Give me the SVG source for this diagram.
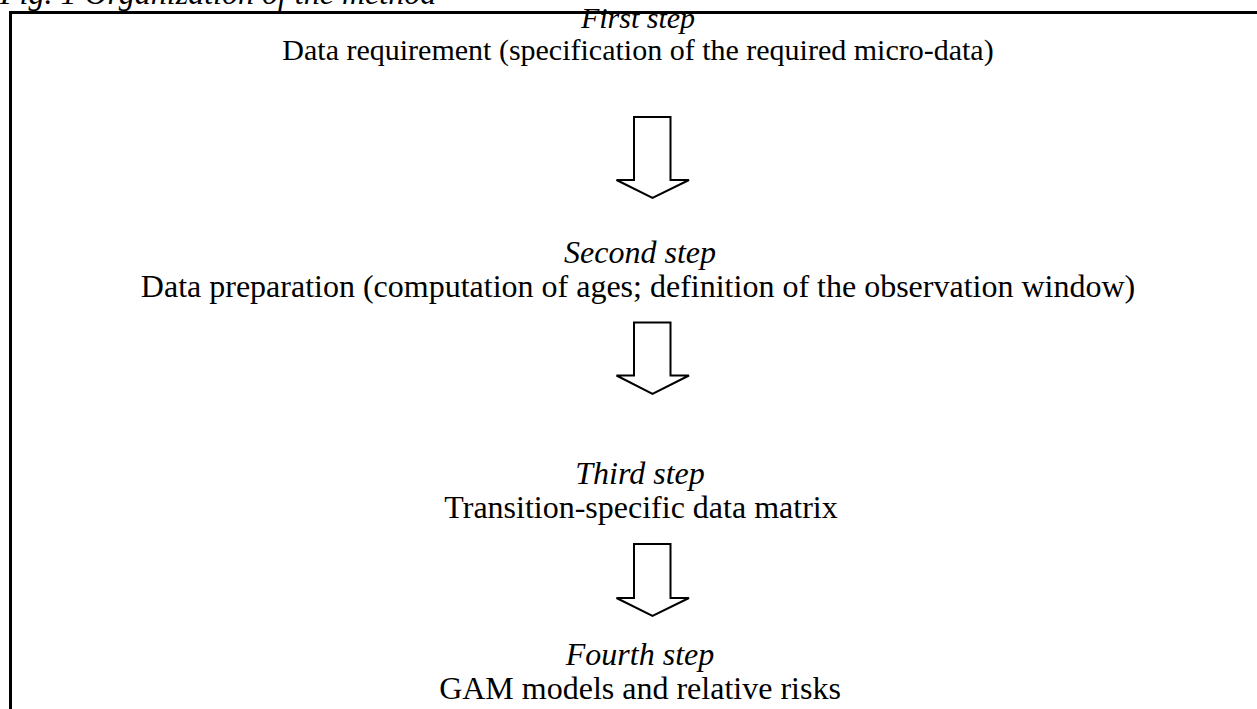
<svg xmlns="http://www.w3.org/2000/svg" width="1257" height="709" viewBox="0 0 1257 709">
<style>
text{font-family:"Liberation Serif","Times New Roman",serif;font-size:32px;fill:#000;text-anchor:middle}
.it{font-style:italic}
.sm{font-size:30px}
.arrow{fill:#fff;stroke:#000;stroke-width:2;stroke-linejoin:miter}
.frame{fill:none;stroke:#000;stroke-width:3}
</style>
<rect width="1257" height="709" fill="#fff"/>
<text class="it" x="0" y="4" style="text-anchor:start">Fig. 1 Organization of the method</text>
<path class="frame" d="M10.5,709 V12.5 H1257"/>
<g id="step1">
<text class="it sm" x="638" y="28">First step</text>
<text class="sm" x="638" y="60">Data requirement (specification of the required micro-data)</text>
</g>
<g id="step2">
<text class="it" x="640" y="263">Second step</text>
<text x="638" y="297">Data preparation (computation of ages; definition of the observation window)</text>
</g>
<g id="step3">
<text class="it" x="640" y="484">Third step</text>
<text x="641" y="518">Transition-specific data matrix</text>
</g>
<g id="step4">
<text class="it" x="640" y="665">Fourth step</text>
<text x="640" y="699">GAM models and relative risks</text>
</g>
<g id="connectors">
<path class="arrow" d="M634,117 H670.5 V180 H689 L652.5,198 L616.5,180 H634 Z"/>
<path class="arrow" d="M634,322.5 H670.5 V375.5 H689 L652.5,394 L616.5,375.5 H634 Z"/>
<path class="arrow" d="M634,544 H670.5 V598 H689 L652.5,616 L616.5,598 H634 Z"/>
</g>
</svg>
